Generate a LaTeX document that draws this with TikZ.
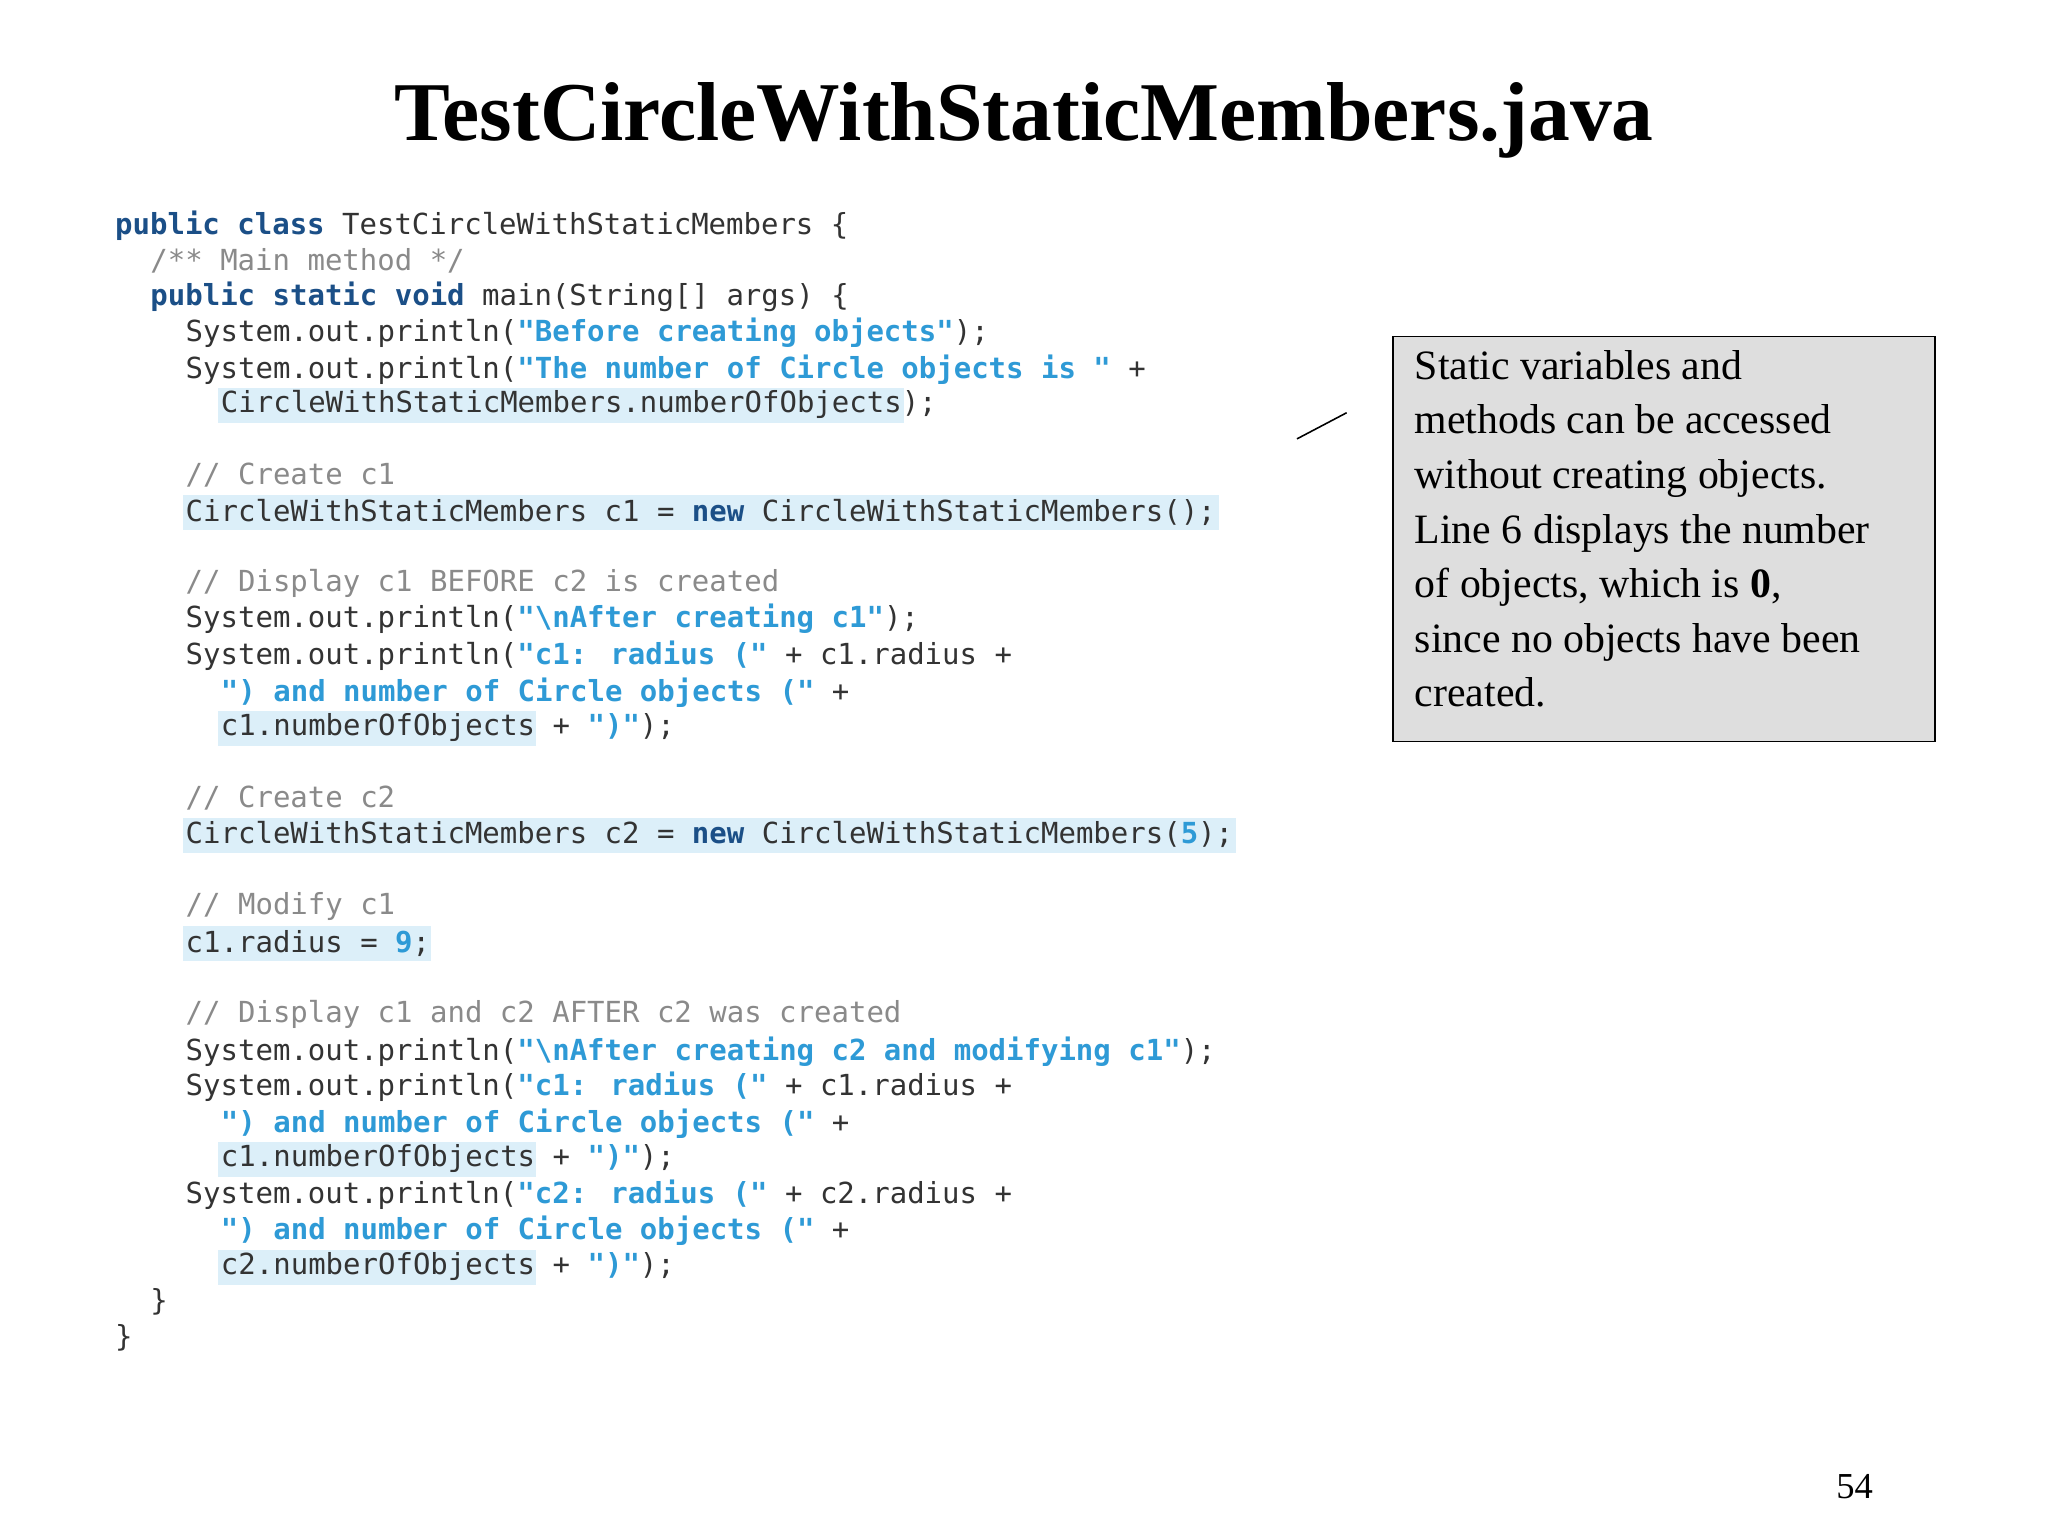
\documentclass[tikz,border=0pt]{standalone}
\usepackage{fontspec}
\setmainfont{Liberation Serif}
\newfontfamily\codefont{DejaVu Sans Mono}
\definecolor{kw}{HTML}{1B4F87}
\definecolor{str}{HTML}{2E9AD6}
\definecolor{cmt}{HTML}{8A8A8A}
\definecolor{txt}{HTML}{333333}
\definecolor{hl}{HTML}{DCEFF9}
\definecolor{boxfill}{HTML}{DEDEDE}
\newcommand{\K}[1]{\textcolor{kw}{\bfseries #1}}
\newcommand{\Sq}[1]{\textcolor{str}{\bfseries #1}}
\newcommand{\Cm}[1]{\textcolor{cmt}{#1}}
\begin{document}
\begin{tikzpicture}[x=1pt,y=-1pt,
  cl/.style={anchor=west,inner sep=0pt,font=\codefont\fontsize{22.2}{26}\selectfont,text=txt},
  hlbox/.style={fill=hl,draw=none}]
\useasboundingbox (0,0) rectangle (1568,1176);
\fill[white] (0,0) rectangle (1568,1176);
\node[font=\bfseries\fontsize{64}{70}\selectfont] (title) at (784,92) {TestCircleWithStaticMembers.java};
% highlights
\fill[hl] (167,297) rectangle (692,324);
\fill[hl] (140,379) rectangle (933,406);
\fill[hl] (167,544) rectangle (410,571);
\fill[hl] (140,626) rectangle (946,653);
\fill[hl] (140,709) rectangle (330,736);
\fill[hl] (167,874) rectangle (410,901);
\fill[hl] (167,957) rectangle (410,984);
% code
\node[cl] (l1) at (88,173) {\K{public class} TestCircleWithStaticMembers \{};
\node[cl] (l2) at (115,200) {\Cm{/** Main method */}};
\node[cl] (l3) at (115,227) {\K{public static void} main(String[] args) \{};
\node[cl] (l4) at (142,255) {System.out.println(\Sq{"Before creating objects"});};
\node[cl] (l5) at (142,283) {System.out.println(\Sq{"The number of Circle objects is "} +};
\node[cl] (l6) at (169,310) {CircleWithStaticMembers.numberOfObjects);};
\node[cl] (l7) at (142,364) {\Cm{// Create c1}};
\node[cl] (l8) at (142,392) {CircleWithStaticMembers c1 = \K{new} CircleWithStaticMembers();};
\node[cl] (l9) at (142,447) {\Cm{// Display c1 BEFORE c2 is created}};
\node[cl] (l10) at (142,474) {System.out.println(\Sq{"\textbackslash nAfter creating c1"});};
\node[cl] (l11) at (142,502) {System.out.println(\Sq{"c1: radius ("} + c1.radius +};
\node[cl] (l12) at (169,530) {\Sq{") and number of Circle objects ("} +};
\node[cl] (l13) at (169,557) {c1.numberOfObjects + \Sq{")"});};
\node[cl] (l14) at (142,611) {\Cm{// Create c2}};
\node[cl] (l15) at (142,639) {CircleWithStaticMembers c2 = \K{new} CircleWithStaticMembers(\Sq{5});};
\node[cl] (l16) at (142,694) {\Cm{// Modify c1}};
\node[cl] (l17) at (142,722) {c1.radius = \Sq{9};};
\node[cl] (l18) at (142,777) {\Cm{// Display c1 and c2 AFTER c2 was created}};
\node[cl] (l19) at (142,805) {System.out.println(\Sq{"\textbackslash nAfter creating c2 and modifying c1"});};
\node[cl] (l20) at (142,832) {System.out.println(\Sq{"c1: radius ("} + c1.radius +};
\node[cl] (l21) at (169,860) {\Sq{") and number of Circle objects ("} +};
\node[cl] (l22) at (169,887) {c1.numberOfObjects + \Sq{")"});};
\node[cl] (l23) at (142,915) {System.out.println(\Sq{"c2: radius ("} + c2.radius +};
\node[cl] (l24) at (169,942) {\Sq{") and number of Circle objects ("} +};
\node[cl] (l25) at (169,970) {c2.numberOfObjects + \Sq{")"});};
\node[cl] (l26) at (115,997) {\}};
\node[cl] (l27) at (88,1024) {\}};
% note
\node[draw=black,line width=1.2pt,fill=boxfill,anchor=north west,minimum width=415pt,minimum height=310pt,inner sep=0pt] (note) at (1066,257) {};
\node[anchor=north west,align=left,inner sep=0pt,font=\fontsize{32}{41.8}\selectfont] (notetext) at (1083,268) {Static variables and\\methods can be accessed\\without creating objects.\\Line 6 displays the number\\of objects, which is \textbf{0},\\since no objects have been\\created.};
\coordinate (pa) at (993,336);
\coordinate (pb) at (1031,316);
\draw[line width=1.2pt] (pa) -- (pb);
\node[font=\fontsize{28}{30}\selectfont] (pg) at (1420,1138) {54};
\end{tikzpicture}
\end{document}
